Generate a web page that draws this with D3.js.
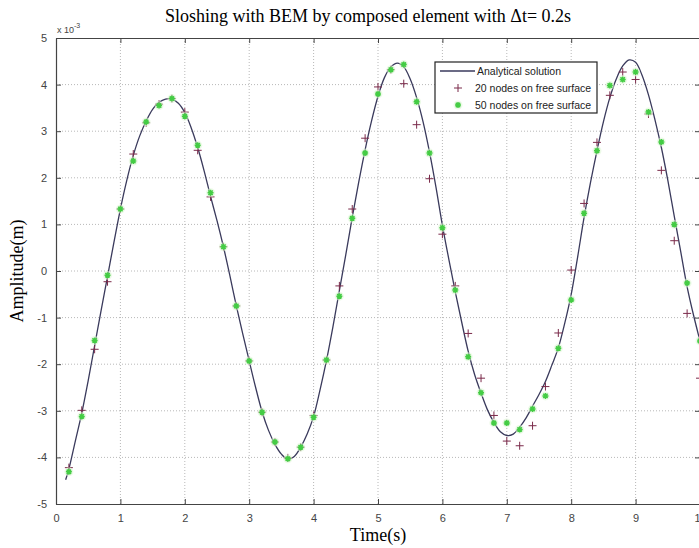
<!DOCTYPE html>
<html>
<head>
<meta charset="utf-8">
<script src="https://cdn.jsdelivr.net/npm/d3@7"></script>
<style>
  body { margin: 0; background: #fff; }
  svg { display: block; }
</style>
</head>
<body>
<div id="chart"></div>
<script>
// Chart data (amplitude in units of 1e-3 m)
var curveTime = [0.15, 0.2, 0.3, 0.4, 0.5, 0.6, 0.7, 0.8, 0.9, 1.0, 1.1, 1.2, 1.3, 1.4, 1.5, 1.6, 1.7, 1.8, 1.9, 2.0,
  2.1, 2.2, 2.3, 2.4, 2.5, 2.6, 2.7, 2.8, 2.9, 3.0, 3.1, 3.2, 3.3, 3.4, 3.5, 3.6, 3.7, 3.8, 3.9, 4.0,
  4.1, 4.2, 4.3, 4.4, 4.5, 4.6, 4.7, 4.8, 4.9, 5.0, 5.1, 5.2, 5.3, 5.4, 5.5, 5.6, 5.7, 5.8, 5.9, 6.0,
  6.1, 6.2, 6.3, 6.4, 6.5, 6.6, 6.7, 6.8, 6.9, 7.0, 7.1, 7.2, 7.3, 7.4, 7.5, 7.6, 7.7, 7.8, 7.9, 8.0,
  8.1, 8.2, 8.3, 8.4, 8.5, 8.6, 8.7, 8.8, 8.9, 9.0, 9.1, 9.2, 9.3, 9.4, 9.5, 9.6, 9.7, 9.8, 9.9, 10.0];
var curveAmp = [-4.48, -4.25, -3.65, -3.05, -2.35, -1.6, -0.85, -0.12, 0.62, 1.33, 1.95, 2.48, 2.9, 3.22, 3.47, 3.62, 3.69, 3.69, 3.6, 3.4,
  3.07, 2.65, 2.15, 1.6, 1.08, 0.52, -0.1, -0.75, -1.35, -1.93, -2.5, -3.02, -3.42, -3.72, -3.93, -4.04, -3.98, -3.78, -3.5, -3.12,
  -2.55, -1.92, -1.2, -0.42, 0.35, 1.15, 1.9, 2.6, 3.22, 3.75, 4.15, 4.38, 4.46, 4.38, 4.12, 3.72, 3.2, 2.55, 1.8, 0.98,
  0.25, -0.45, -1.1, -1.72, -2.22, -2.62, -2.98, -3.25, -3.45, -3.53, -3.5, -3.35, -3.15, -2.9, -2.65, -2.37, -2.02, -1.65, -1.12, -0.5,
  0.3, 1.15, 1.9, 2.58, 3.2, 3.72, 4.12, 4.4, 4.53, 4.48, 4.2, 3.78, 3.25, 2.65, 1.95, 1.18, 0.42, -0.34, -0.95, -1.5];

var sampleTime = [0.2, 0.4, 0.6, 0.8, 1.0, 1.2, 1.4, 1.6, 1.8, 2.0, 2.2, 2.4, 2.6, 2.8, 3.0, 3.2, 3.4, 3.6, 3.8, 4.0,
  4.2, 4.4, 4.6, 4.8, 5.0, 5.2, 5.4, 5.6, 5.8, 6.0, 6.2, 6.4, 6.6, 6.8, 7.0, 7.2, 7.4, 7.6, 7.8, 8.0,
  8.2, 8.4, 8.6, 8.8, 9.0, 9.2, 9.4, 9.6, 9.8, 10.0];
var nodes20 = [-4.22, -2.99, -1.68, -0.23, 1.33, 2.51, 3.18, 3.58, 3.70, 3.41, 2.59, 1.59, 0.52, -0.75, -1.93, -3.03, -3.67, -4.01, -3.78, -3.10,
  -1.91, -0.32, 1.33, 2.85, 3.95, 4.32, 4.02, 3.14, 1.98, 0.79, -0.32, -1.34, -2.30, -3.10, -3.65, -3.75, -3.32, -2.48, -1.33, 0.02,
  1.45, 2.76, 3.77, 4.27, 4.11, 3.37, 2.16, 0.65, -0.91, -2.3];
var nodes50 = [-4.31, -3.12, -1.49, -0.09, 1.33, 2.36, 3.20, 3.55, 3.70, 3.32, 2.70, 1.68, 0.52, -0.75, -1.93, -3.03, -3.67, -4.03, -3.78, -3.14,
  -1.91, -0.54, 1.13, 2.53, 3.80, 4.32, 4.43, 3.63, 2.53, 0.93, -0.41, -1.84, -2.61, -3.26, -3.26, -3.40, -2.96, -2.68, -1.66, -0.62,
  1.24, 2.58, 3.98, 4.11, 4.27, 3.41, 2.77, 1.00, -0.26, -1.5];

var xTicks = [0, 1, 2, 3, 4, 5, 6, 7, 8, 9, 10];
var yTicks = [-5, -4, -3, -2, -1, 0, 1, 2, 3, 4, 5];
var legendLabels = ["Analytical solution", "20 nodes on free surface", "50 nodes on free surface"];

// Chart area
var svgWidth = 699;
var svgHeight = 548;
var margin = { top: 38, right: -1, bottom: 44, left: 56 };
var width = svgWidth - margin.left - margin.right;
var height = svgHeight - margin.top - margin.bottom;

var svg = d3.select("#chart")
  .append("svg")
  .attr("width", svgWidth)
  .attr("height", svgHeight);

var chartGroup = svg.append("g")
  .attr("transform", `translate(${margin.left}, ${margin.top})`);

var xScale = d3.scaleLinear().domain([0, 10]).range([0, width]);
var yScale = d3.scaleLinear().domain([-5, 5]).range([height, 0]);

var tickFont = "'Liberation Sans', Arial, sans-serif";
var serifFont = "'Liberation Serif', 'Times New Roman', serif";

// Grid (dotted)
chartGroup.append("g")
  .selectAll("line")
  .data(xTicks.slice(1, -1))
  .enter()
  .append("line")
  .attr("x1", d => xScale(d)).attr("x2", d => xScale(d))
  .attr("y1", 0).attr("y2", height)
  .attr("stroke", "#b8b8b8")
  .attr("stroke-dasharray", "1,2");

chartGroup.append("g")
  .selectAll("line")
  .data(yTicks.slice(1, -1))
  .enter()
  .append("line")
  .attr("x1", 0).attr("x2", width)
  .attr("y1", d => yScale(d)).attr("y2", d => yScale(d))
  .attr("stroke", "#b8b8b8")
  .attr("stroke-dasharray", "1,2");

// Axes (MATLAB style, ticks inside), plain hyphen minus like the original
var plainFormat = d => String(d);
var bottomAxis = d3.axisBottom(xScale).tickValues(xTicks).tickFormat(plainFormat).tickSizeInner(-5).tickSizeOuter(0).tickPadding(10);
var leftAxis = d3.axisLeft(yScale).tickValues(yTicks).tickFormat(plainFormat).tickSizeInner(-5).tickSizeOuter(0).tickPadding(9);
var topAxis = d3.axisTop(xScale).tickValues(xTicks).tickSizeInner(-5).tickSizeOuter(0).tickFormat("");
var rightAxis = d3.axisRight(yScale).tickValues(yTicks).tickSizeInner(-5).tickSizeOuter(0).tickFormat("");

function styleAxis(g) {
  g.selectAll("path").attr("stroke", "#444").attr("stroke-width", 1.2);
  g.selectAll("line").attr("stroke", "#444");
  g.selectAll("text").attr("fill", "#444").style("font-family", tickFont).style("font-size", "11px");
}

chartGroup.append("g").attr("transform", `translate(0, ${height})`).call(bottomAxis).call(styleAxis);
chartGroup.append("g").call(leftAxis).call(styleAxis);
chartGroup.append("g").call(topAxis).call(styleAxis);
chartGroup.append("g").attr("transform", `translate(${width}, 0)`).call(rightAxis).call(styleAxis);

// Exponent label
var expText = chartGroup.append("text")
  .attr("x", 1)
  .attr("y", -5)
  .attr("fill", "#444")
  .style("font-family", tickFont)
  .style("font-size", "9px");
expText.append("tspan").text("x 10");
expText.append("tspan").attr("dy", -5).style("font-size", "7px").text("-3");

// Analytical curve
var curveData = curveTime.map((t, i) => ({ t: t, a: curveAmp[i] }));
var line = d3.line()
  .x(d => xScale(d.t))
  .y(d => yScale(d.a))
  .curve(d3.curveCatmullRom);

chartGroup.append("path")
  .datum(curveData)
  .attr("fill", "none")
  .attr("stroke", "#3a3a5c")
  .attr("stroke-width", 1.3)
  .attr("d", line);

// 20 nodes: plus markers
var plusPath = "M-4,0H4M0,-4V4";
chartGroup.append("g")
  .selectAll("path")
  .data(sampleTime.map((t, i) => ({ t: t, a: nodes20[i] })))
  .enter()
  .append("path")
  .attr("d", plusPath)
  .attr("transform", d => `translate(${xScale(d.t)}, ${yScale(d.a)})`)
  .attr("stroke", "#7a2a4a")
  .attr("stroke-width", 1)
  .attr("fill", "none");

// 50 nodes: asterisk markers
var starPath = "M-3,0H3M0,-3V3M-2.2,-2.2L2.2,2.2M-2.2,2.2L2.2,-2.2";
var g50 = chartGroup.append("g")
  .selectAll("g")
  .data(sampleTime.map((t, i) => ({ t: t, a: nodes50[i] })))
  .enter()
  .append("g")
  .attr("transform", d => `translate(${xScale(d.t)}, ${yScale(d.a)})`);
g50.append("circle").attr("r", 4.5).attr("fill", "#dcf5d4").attr("opacity", 0.55);
g50.append("path").attr("d", starPath).attr("stroke", "#44cc44").attr("stroke-width", 1.5);

// Legend
var legend = svg.append("g").attr("transform", "translate(435, 62)");
legend.append("rect")
  .attr("width", 162).attr("height", 51)
  .attr("fill", "#fff").attr("stroke", "#222").attr("stroke-width", 1.2);
legendLabels.forEach(function(label, i) {
  var y = 9 + i * 17;
  if (i === 0) {
    legend.append("line").attr("x1", 5).attr("x2", 40).attr("y1", y).attr("y2", y)
      .attr("stroke", "#3a3a5c").attr("stroke-width", 1.3);
  } else if (i === 1) {
    legend.append("path").attr("d", plusPath)
      .attr("transform", `translate(23, ${y})`)
      .attr("stroke", "#7a2a4a").attr("stroke-width", 1);
  } else {
    legend.append("circle").attr("cx", 23).attr("cy", y).attr("r", 4.5).attr("fill", "#dcf5d4").attr("opacity", 0.55);
    legend.append("path").attr("d", starPath)
      .attr("transform", `translate(23, ${y})`)
      .attr("stroke", "#44cc44").attr("stroke-width", 1.5);
  }
  legend.append("text")
    .attr("x", i === 0 ? 42 : 40)
    .attr("y", y + 4)
    .attr("fill", "#222")
    .style("font-family", tickFont)
    .style("font-size", "10.5px")
    .text(label);
});

// Title and axis labels
svg.append("text")
  .attr("x", 368)
  .attr("y", 22)
  .attr("text-anchor", "middle")
  .style("font-family", serifFont)
  .style("font-size", "18px")
  .text("Sloshing with BEM by composed element with \u0394t= 0.2s");

svg.append("text")
  .attr("transform", "rotate(-90)")
  .attr("x", -271)
  .attr("y", 23)
  .attr("text-anchor", "middle")
  .style("font-family", serifFont)
  .style("font-size", "18px")
  .text("Amplitude(m)");

svg.append("text")
  .attr("x", 378)
  .attr("y", 541)
  .attr("text-anchor", "middle")
  .style("font-family", serifFont)
  .style("font-size", "18px")
  .text("Time(s)");
</script>
</body>
</html>
